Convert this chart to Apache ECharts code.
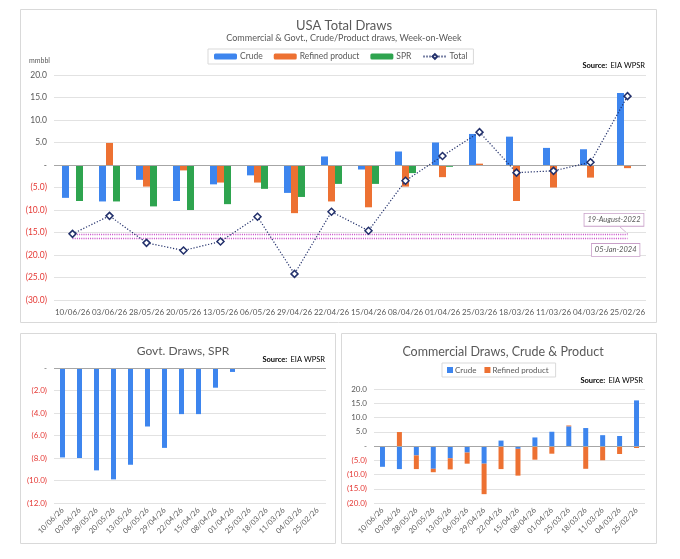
<!DOCTYPE html>
<html><head><meta charset="utf-8">
<script src="https://cdn.jsdelivr.net/npm/echarts@6/dist/echarts.min.js"></script>
<style>html,body{margin:0;padding:0;background:#fff}#c{width:680px;height:559px}</style>
</head><body><div id="c"></div>
<script>
const categories = ['10/06/26','03/06/26','28/05/26','20/05/26','13/05/26','06/05/26','29/04/26','22/04/26','15/04/26','08/04/26','01/04/26','25/03/26','18/03/26','11/03/26','04/03/26','25/02/26'];
const crude   = [-7.3,-8.1,-3.3,-8.0,-4.3,-2.3,-6.2, 1.9,-1.0, 3.0, 5.0, 6.9, 6.3, 3.8, 3.5,16.0];
const refined = [ 0.0, 4.9,-4.8,-1.2,-3.9,-3.9,-10.7,-8.1,-9.4,-4.8,-2.7, 0.3,-8.0,-5.0,-2.8,-0.7];
const spr     = [-8.0,-8.1,-9.2,-10.0,-8.7,-5.3,-7.1,-4.2,-4.2,-1.8,-0.4, 0, 0, 0, 0, 0];
const sprGovt = [-7.95,-8.0,-9.1,-9.9,-8.6,-5.2,-7.1,-4.1,-4.1,-1.75,-0.35, 0, 0, 0, 0, 0];
const total   = [-15.3,-11.3,-17.3,-19.0,-17.0,-11.5,-24.2,-10.4,-14.6,-3.5, 2.0, 7.3,-1.7,-1.3, 0.6,15.3];
const refLines = [{name:'19-August-2022', value:-15.3},{name:'05-Jan-2024', value:-16.2}];

const FONT = 'Lato';
const C_CRUDE = '#3d85ee', C_REF = '#ed7132', C_SPR = '#2ea44f', C_TOT = '#22306b';
const GRAY = '#595959', RED = '#e53935', GRID = '#e2e2e2', ZERO = '#a6a6a6';

function fmt(v){ if (Math.abs(v) < 1e-9) return '-'; return v < 0 ? '(' + (-v).toFixed(1) + ')' : v.toFixed(1); }
function yAxisCfg(gi, min, max, interval, fs){
  return { type:'value', gridIndex:gi, min:min, max:max, interval:interval,
    axisLine:{show:false}, axisTick:{show:false},
    splitLine:{lineStyle:{color:GRID, width:1}},
    axisLabel:{ formatter:fmt, fontFamily:FONT, fontSize:fs, margin:7,
      color:function(v){ return Number(v) < 0 ? RED : GRAY; } } };
}
function xAxisCfg(gi, rotate, fs){
  return { type:'category', gridIndex:gi, data:categories,
    axisLine:{show:false}, axisTick:{show:false},
    axisLabel:{ interval:0, rotate:rotate, fontFamily:FONT, fontSize:fs, color:GRAY, margin: rotate ? 6 : 8 } };
}
const zeroLine = { silent:true, symbol:'none', label:{show:false},
  lineStyle:{color:ZERO, type:'solid', width:1}, data:[{yAxis:0}] };

const chart = echarts.init(document.getElementById('c'), null, {renderer:'canvas'});
const srcRich = { b:{fontWeight:'bold', fontSize:7.5, color:GRAY, fontFamily:FONT}, n:{fontSize:7.5, color:GRAY, fontFamily:FONT} };

chart.setOption({
  animation:false,
  textStyle:{fontFamily:FONT},
  graphic:[
    {type:'rect', shape:{x:20.5,y:9.5,width:636,height:313}, style:{fill:'none', stroke:'#d9d9d9', lineWidth:1}},
    {type:'rect', shape:{x:20.5,y:333.5,width:315,height:210}, style:{fill:'none', stroke:'#d9d9d9', lineWidth:1}},
    {type:'rect', shape:{x:341.5,y:333.5,width:315,height:210}, style:{fill:'none', stroke:'#d9d9d9', lineWidth:1}},
    {type:'text', left:29, top:57, style:{text:'mmbbl', fontSize:7, fill:GRAY, fontFamily:FONT}},
    {type:'text', right:35, top:60, style:{text:'{b|Source:} {n|EIA WPSR}', rich:srcRich}},
    {type:'text', right:355, top:354, style:{text:'{b|Source:} {n|EIA WPSR}', rich:srcRich}},
    {type:'text', right:37, top:375, style:{text:'{b|Source:} {n|EIA WPSR}', rich:srcRich}},
    {type:'line', shape:{x1:620,y1:227,x2:628,y2:234}, style:{stroke:'#c9a0c9', lineWidth:0.8}}
  ],
  title:[
    {text:'USA Total Draws', subtext:'Commercial & Govt., Crude/Product draws, Week-on-Week',
      left:339, top:14, textAlign:'center', itemGap:2,
      textStyle:{fontSize:13, fontWeight:'normal', color:GRAY, fontFamily:FONT},
      subtextStyle:{fontSize:9, color:GRAY, fontFamily:FONT}},
    {text:'Govt. Draws, SPR', left:178, top:340, textAlign:'center',
      textStyle:{fontSize:12, fontWeight:'normal', color:GRAY, fontFamily:FONT}},
    {text:'Commercial Draws, Crude & Product', left:498, top:340, textAlign:'center',
      textStyle:{fontSize:12.5, fontWeight:'normal', color:GRAY, fontFamily:FONT}}
  ],
  legend:[
    {data:['Crude','Refined product','SPR','Total'], left:208, top:49, itemWidth:23, itemHeight:6, itemGap:11,
      padding:[3,6], borderColor:'#d9d9d9', borderWidth:1,
      textStyle:{fontSize:8.5, color:GRAY, fontFamily:FONT, padding:[0,0,0,-2]}},
    {data:['Crude ','Refined product '], icon:'rect', left:442, top:363, itemWidth:6, itemHeight:6, itemGap:6,
      padding:[3,5], borderColor:'#d9d9d9', borderWidth:1,
      textStyle:{fontSize:8, color:GRAY, fontFamily:FONT, padding:[0,0,0,-3]}}
  ],
  grid:[
    {left:54, top:75, width:592, height:225},
    {left:54, top:368, width:272, height:135},
    {left:374, top:389, width:271, height:114}
  ],
  xAxis:[ xAxisCfg(0, 0, 8), xAxisCfg(1, 45, 7.5), xAxisCfg(2, 45, 7.5) ],
  yAxis:[ yAxisCfg(0, -30, 20, 5, 8.5), yAxisCfg(1, -12, 0, 2, 8), yAxisCfg(2, -20, 20, 5, 8) ],
  series:[
    {name:'Crude', type:'bar', xAxisIndex:0, yAxisIndex:0, data:crude, barWidth:7, barGap:'0%',
      itemStyle:{color:C_CRUDE}, markLine:zeroLine, z:2},
    {name:'Refined product', type:'bar', xAxisIndex:0, yAxisIndex:0, data:refined, barWidth:7, barGap:'0%',
      itemStyle:{color:C_REF}, z:2},
    {name:'SPR', type:'bar', xAxisIndex:0, yAxisIndex:0, data:spr, barWidth:7, barGap:'0%',
      itemStyle:{color:C_SPR}, z:2},
    {name:'Total', type:'line', xAxisIndex:0, yAxisIndex:0, data:total,
      symbol:'diamond', symbolSize:7, showAllSymbol:true,
      lineStyle:{color:C_TOT, width:1.2, type:[1.2,1.8]},
      itemStyle:{color:'#ffffff', borderColor:C_TOT, borderWidth:1.5}, z:5,
      markLine:{ silent:true, symbol:'none',
        lineStyle:{color:'#c84fc8', type:[1,1.2], width:1.4},
        data: refLines.map(function(r, i){
          return [
            {coord:[0, r.value], name:r.name,
              label:{show:true, formatter:r.name, position: i===0 ? 'insideEndTop' : 'insideEndBottom',
                offset: i===0 ? [21,-3] : [17,1],
                fontSize:7.5, fontStyle:'italic', color:GRAY, fontFamily:FONT,
                backgroundColor:'#fff', borderColor:'#c9a0c9', borderWidth:0.8, padding:[2,3]}},
            {coord:[categories.length-1, r.value]}
          ];
        })
      }},
    {name:'SPR ', type:'bar', xAxisIndex:1, yAxisIndex:1, data:sprGovt, barWidth:5,
      itemStyle:{color:C_CRUDE}, markLine:zeroLine},
    {name:'Crude ', type:'bar', xAxisIndex:2, yAxisIndex:2, data:crude, stack:'comm', barWidth:5,
      itemStyle:{color:C_CRUDE}, markLine:zeroLine},
    {name:'Refined product ', type:'bar', xAxisIndex:2, yAxisIndex:2, data:refined, stack:'comm', barWidth:5,
      itemStyle:{color:C_REF}}
  ]
});
</script></body></html>
